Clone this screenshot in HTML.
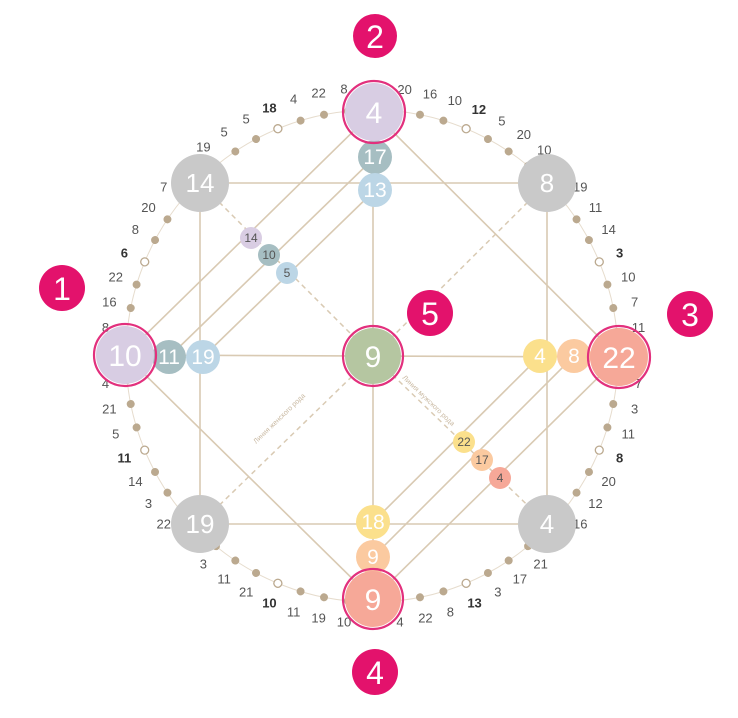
<!DOCTYPE html>
<html><head><meta charset="utf-8"><style>
html,body{margin:0;padding:0;background:#fff;}
svg{display:block;font-family:"Liberation Sans",sans-serif;}
.n{font-size:13px;fill:#555;text-anchor:middle;}
.b{font-weight:bold;fill:#333;}
.w{fill:#fff;text-anchor:middle;}
.d{fill:#555;text-anchor:middle;font-size:12px;}
</style></head><body>
<svg width="738" height="718" viewBox="0 0 738 718" xmlns="http://www.w3.org/2000/svg">
<defs>
<g id="dot"><circle cx="372" cy="110" r="4" fill="#bba98f"/></g>
<g id="hol"><circle cx="372" cy="110" r="4" fill="#fff" stroke="#bba98f" stroke-width="1.3"/></g>
</defs>
<circle cx="372" cy="356" r="246" fill="none" stroke="#e6dccd" stroke-width="1"/>
<!-- dots -->
<g>
<use href="#dot" transform="rotate(5.625 372 356)"/><use href="#dot" transform="rotate(11.25 372 356)"/><use href="#dot" transform="rotate(16.875 372 356)"/><use href="#hol" transform="rotate(22.5 372 356)"/><use href="#dot" transform="rotate(28.125 372 356)"/><use href="#dot" transform="rotate(33.75 372 356)"/><use href="#dot" transform="rotate(39.375 372 356)"/>
<use href="#dot" transform="rotate(50.625 372 356)"/><use href="#dot" transform="rotate(56.25 372 356)"/><use href="#dot" transform="rotate(61.875 372 356)"/><use href="#hol" transform="rotate(67.5 372 356)"/><use href="#dot" transform="rotate(73.125 372 356)"/><use href="#dot" transform="rotate(78.75 372 356)"/><use href="#dot" transform="rotate(84.375 372 356)"/>
<use href="#dot" transform="rotate(95.625 372 356)"/><use href="#dot" transform="rotate(101.25 372 356)"/><use href="#dot" transform="rotate(106.875 372 356)"/><use href="#hol" transform="rotate(112.5 372 356)"/><use href="#dot" transform="rotate(118.125 372 356)"/><use href="#dot" transform="rotate(123.75 372 356)"/><use href="#dot" transform="rotate(129.375 372 356)"/>
<use href="#dot" transform="rotate(140.625 372 356)"/><use href="#dot" transform="rotate(146.25 372 356)"/><use href="#dot" transform="rotate(151.875 372 356)"/><use href="#hol" transform="rotate(157.5 372 356)"/><use href="#dot" transform="rotate(163.125 372 356)"/><use href="#dot" transform="rotate(168.75 372 356)"/><use href="#dot" transform="rotate(174.375 372 356)"/>
<use href="#dot" transform="rotate(185.625 372 356)"/><use href="#dot" transform="rotate(191.25 372 356)"/><use href="#dot" transform="rotate(196.875 372 356)"/><use href="#hol" transform="rotate(202.5 372 356)"/><use href="#dot" transform="rotate(208.125 372 356)"/><use href="#dot" transform="rotate(213.75 372 356)"/><use href="#dot" transform="rotate(219.375 372 356)"/>
<use href="#dot" transform="rotate(230.625 372 356)"/><use href="#dot" transform="rotate(236.25 372 356)"/><use href="#dot" transform="rotate(241.875 372 356)"/><use href="#hol" transform="rotate(247.5 372 356)"/><use href="#dot" transform="rotate(253.125 372 356)"/><use href="#dot" transform="rotate(258.75 372 356)"/><use href="#dot" transform="rotate(264.375 372 356)"/>
<use href="#dot" transform="rotate(275.625 372 356)"/><use href="#dot" transform="rotate(281.25 372 356)"/><use href="#dot" transform="rotate(286.875 372 356)"/><use href="#hol" transform="rotate(292.5 372 356)"/><use href="#dot" transform="rotate(298.125 372 356)"/><use href="#dot" transform="rotate(303.75 372 356)"/><use href="#dot" transform="rotate(309.375 372 356)"/>
<use href="#dot" transform="rotate(320.625 372 356)"/><use href="#dot" transform="rotate(326.25 372 356)"/><use href="#dot" transform="rotate(331.875 372 356)"/><use href="#hol" transform="rotate(337.5 372 356)"/><use href="#dot" transform="rotate(343.125 372 356)"/><use href="#dot" transform="rotate(348.75 372 356)"/><use href="#dot" transform="rotate(354.375 372 356)"/>
</g>
<!-- numbers -->
<g class="n">
<g transform="rotate(7 372 356)"><text x="372" y="92" transform="rotate(-7 372 88)">20</text></g>
<g transform="rotate(12.5 372 356)"><text x="372" y="92" transform="rotate(-12.5 372 88)">16</text></g>
<g transform="rotate(18 372 356)"><text x="372" y="92" transform="rotate(-18 372 88)">10</text></g>
<g transform="rotate(23.5 372 356)"><text class="b" x="372" y="92" transform="rotate(-23.5 372 88)">12</text></g>
<g transform="rotate(29 372 356)"><text x="372" y="92" transform="rotate(-29 372 88)">5</text></g>
<g transform="rotate(34.5 372 356)"><text x="372" y="92" transform="rotate(-34.5 372 88)">20</text></g>
<g transform="rotate(40 372 356)"><text x="372" y="92" transform="rotate(-40 372 88)">10</text></g>

<g transform="rotate(51 372 356)"><text x="372" y="92" transform="rotate(-51 372 88)">19</text></g>
<g transform="rotate(56.5 372 356)"><text x="372" y="92" transform="rotate(-56.5 372 88)">11</text></g>
<g transform="rotate(62 372 356)"><text x="372" y="92" transform="rotate(-62 372 88)">14</text></g>
<g transform="rotate(67.5 372 356)"><text class="b" x="372" y="92" transform="rotate(-67.5 372 88)">3</text></g>
<g transform="rotate(73 372 356)"><text x="372" y="92" transform="rotate(-73 372 88)">10</text></g>
<g transform="rotate(78.5 372 356)"><text x="372" y="92" transform="rotate(-78.5 372 88)">7</text></g>
<g transform="rotate(84 372 356)"><text x="372" y="92" transform="rotate(-84 372 88)">11</text></g>

<g transform="rotate(96 372 356)"><text x="372" y="92" transform="rotate(-96 372 88)">7</text></g>
<g transform="rotate(101.5 372 356)"><text x="372" y="92" transform="rotate(-101.5 372 88)">3</text></g>
<g transform="rotate(107 372 356)"><text x="372" y="92" transform="rotate(-107 372 88)">11</text></g>
<g transform="rotate(112.5 372 356)"><text class="b" x="372" y="92" transform="rotate(-112.5 372 88)">8</text></g>
<g transform="rotate(118 372 356)"><text x="372" y="92" transform="rotate(-118 372 88)">20</text></g>
<g transform="rotate(123.5 372 356)"><text x="372" y="92" transform="rotate(-123.5 372 88)">12</text></g>
<g transform="rotate(129 372 356)"><text x="372" y="92" transform="rotate(-129 372 88)">16</text></g>

<g transform="rotate(141 372 356)"><text x="372" y="92" transform="rotate(-141 372 88)">21</text></g>
<g transform="rotate(146.5 372 356)"><text x="372" y="92" transform="rotate(-146.5 372 88)">17</text></g>
<g transform="rotate(152 372 356)"><text x="372" y="92" transform="rotate(-152 372 88)">3</text></g>
<g transform="rotate(157.5 372 356)"><text class="b" x="372" y="92" transform="rotate(-157.5 372 88)">13</text></g>
<g transform="rotate(163 372 356)"><text x="372" y="92" transform="rotate(-163 372 88)">8</text></g>
<g transform="rotate(168.5 372 356)"><text x="372" y="92" transform="rotate(-168.5 372 88)">22</text></g>
<g transform="rotate(174 372 356)"><text x="372" y="92" transform="rotate(-174 372 88)">4</text></g>

<g transform="rotate(186 372 356)"><text x="372" y="92" transform="rotate(-186 372 88)">10</text></g>
<g transform="rotate(191.5 372 356)"><text x="372" y="92" transform="rotate(-191.5 372 88)">19</text></g>
<g transform="rotate(197 372 356)"><text x="372" y="92" transform="rotate(-197 372 88)">11</text></g>
<g transform="rotate(202.5 372 356)"><text class="b" x="372" y="92" transform="rotate(-202.5 372 88)">10</text></g>
<g transform="rotate(208 372 356)"><text x="372" y="92" transform="rotate(-208 372 88)">21</text></g>
<g transform="rotate(213.5 372 356)"><text x="372" y="92" transform="rotate(-213.5 372 88)">11</text></g>
<g transform="rotate(219 372 356)"><text x="372" y="92" transform="rotate(-219 372 88)">3</text></g>

<g transform="rotate(231 372 356)"><text x="372" y="92" transform="rotate(-231 372 88)">22</text></g>
<g transform="rotate(236.5 372 356)"><text x="372" y="92" transform="rotate(-236.5 372 88)">3</text></g>
<g transform="rotate(242 372 356)"><text x="372" y="92" transform="rotate(-242 372 88)">14</text></g>
<g transform="rotate(247.5 372 356)"><text class="b" x="372" y="92" transform="rotate(-247.5 372 88)">11</text></g>
<g transform="rotate(253 372 356)"><text x="372" y="92" transform="rotate(-253 372 88)">5</text></g>
<g transform="rotate(258.5 372 356)"><text x="372" y="92" transform="rotate(-258.5 372 88)">21</text></g>
<g transform="rotate(264 372 356)"><text x="372" y="92" transform="rotate(-264 372 88)">4</text></g>

<g transform="rotate(276 372 356)"><text x="372" y="92" transform="rotate(-276 372 88)">8</text></g>
<g transform="rotate(281.5 372 356)"><text x="372" y="92" transform="rotate(-281.5 372 88)">16</text></g>
<g transform="rotate(287 372 356)"><text x="372" y="92" transform="rotate(-287 372 88)">22</text></g>
<g transform="rotate(292.5 372 356)"><text class="b" x="372" y="92" transform="rotate(-292.5 372 88)">6</text></g>
<g transform="rotate(298 372 356)"><text x="372" y="92" transform="rotate(-298 372 88)">8</text></g>
<g transform="rotate(303.5 372 356)"><text x="372" y="92" transform="rotate(-303.5 372 88)">20</text></g>
<g transform="rotate(309 372 356)"><text x="372" y="92" transform="rotate(-309 372 88)">7</text></g>

<g transform="rotate(321 372 356)"><text x="372" y="92" transform="rotate(-321 372 88)">19</text></g>
<g transform="rotate(326.5 372 356)"><text x="372" y="92" transform="rotate(-326.5 372 88)">5</text></g>
<g transform="rotate(332 372 356)"><text x="372" y="92" transform="rotate(-332 372 88)">5</text></g>
<g transform="rotate(337.5 372 356)"><text class="b" x="372" y="92" transform="rotate(-337.5 372 88)">18</text></g>
<g transform="rotate(343 372 356)"><text x="372" y="92" transform="rotate(-343 372 88)">4</text></g>
<g transform="rotate(348.5 372 356)"><text x="372" y="92" transform="rotate(-348.5 372 88)">22</text></g>
<g transform="rotate(354 372 356)"><text x="372" y="92" transform="rotate(-354 372 88)">8</text></g>
</g>

<!-- lines -->
<g stroke="#d9cab3" stroke-width="1.6" fill="none">
<polygon points="125,355 373,112 619,357 373,599"/>
<polygon points="200,183 547,183 547,524 200,524"/>
<line x1="373" y1="112" x2="373" y2="599"/>
<line x1="125" y1="355" x2="619" y2="357"/>
<line x1="169" y1="357" x2="375" y2="157"/>
<line x1="203" y1="357" x2="375" y2="190"/>
<line x1="540" y1="356" x2="373" y2="522"/>
<line x1="574" y1="356" x2="373" y2="557"/>
</g>
<g stroke="#d9cab3" stroke-width="1.5" stroke-dasharray="5,4" fill="none">
<line x1="200" y1="183" x2="373" y2="356"/>
<line x1="373" y1="356" x2="547" y2="524"/>
<line x1="200" y1="524" x2="373" y2="356"/>
<line x1="547" y1="183" x2="373" y2="356"/>
</g>
<text x="0" y="0" font-size="7" fill="#c9b9a2" transform="translate(256,444) rotate(-44)">Линия женского рода</text>
<text x="0" y="0" font-size="7" fill="#c9b9a2" transform="translate(402,378) rotate(44)">Линия мужского рода</text>

<!-- corners -->
<g font-size="26">
<circle cx="200" cy="183" r="29" fill="#c9c9c9"/><text class="w" x="200" y="192">14</text>
<circle cx="547" cy="183" r="29" fill="#c9c9c9"/><text class="w" x="547" y="192">8</text>
<circle cx="200" cy="524" r="29" fill="#c9c9c9"/><text class="w" x="200" y="533">19</text>
<circle cx="547" cy="524" r="29" fill="#c9c9c9"/><text class="w" x="547" y="533">4</text>
</g>

<!-- medium circles -->
<g font-size="21">
<circle cx="375" cy="157" r="17" fill="#a6bec2"/><text class="w" x="375" y="164">17</text>
<circle cx="375" cy="190" r="17" fill="#bcd6e6"/><text class="w" x="375" y="197">13</text>
<circle cx="169" cy="357" r="17" fill="#a6bec2"/><text class="w" x="169" y="364">11</text>
<circle cx="203" cy="357" r="17" fill="#bcd6e6"/><text class="w" x="203" y="364">19</text>
<circle cx="540" cy="356" r="17" fill="#fbe08c"/><text class="w" x="540" y="363">4</text>
<circle cx="574" cy="356" r="17" fill="#fbcaa0"/><text class="w" x="574" y="363">8</text>
<circle cx="373" cy="522" r="17" fill="#fbe08c"/><text class="w" x="373" y="529">18</text>
<circle cx="373" cy="557" r="17" fill="#fbcaa0"/><text class="w" x="373" y="564">9</text>
</g>

<!-- small circles -->
<g font-size="12">
<circle cx="251" cy="238" r="11" fill="#d9cde3"/><text class="d" x="251" y="242">14</text>
<circle cx="269" cy="255" r="11" fill="#a6bec2"/><text class="d" x="269" y="259">10</text>
<circle cx="287" cy="273" r="11" fill="#bcd6e6"/><text class="d" x="287" y="277">5</text>
<circle cx="464" cy="442" r="11" fill="#fbe08c"/><text class="d" x="464" y="446">22</text>
<circle cx="482" cy="460" r="11" fill="#fbcaa0"/><text class="d" x="482" y="464">17</text>
<circle cx="500" cy="478" r="11" fill="#f6a898"/><text class="d" x="500" y="482">4</text>
</g>

<!-- main nodes -->
<g font-size="30">
<circle cx="374" cy="112" r="29" fill="#d8cde3"/><circle cx="374" cy="112" r="31" fill="none" stroke="#e2307d" stroke-width="2.2"/><text class="w" x="374" y="123">4</text>
<circle cx="125" cy="355" r="29" fill="#d8cde3"/><circle cx="125" cy="355" r="31" fill="none" stroke="#e2307d" stroke-width="2.2"/><text class="w" x="125" y="366">10</text>
<circle cx="619" cy="357" r="29" fill="#f6a898"/><circle cx="619" cy="357" r="31" fill="none" stroke="#e2307d" stroke-width="2.2"/><text class="w" x="619" y="368">22</text>
<circle cx="373" cy="599" r="28" fill="#f6a898"/><circle cx="373" cy="599" r="30" fill="none" stroke="#e2307d" stroke-width="2.2"/><text class="w" x="373" y="610">9</text>
<circle cx="373" cy="356" r="28" fill="#b5c6a1"/><circle cx="373" cy="356" r="30" fill="none" stroke="#e2307d" stroke-width="2.2"/><text class="w" x="373" y="367">9</text>
</g>

<!-- pink labels -->
<g font-size="32">
<circle cx="375" cy="36" r="22" fill="#e3126c"/><text class="w" x="375" y="48">2</text>
<circle cx="62" cy="288" r="23" fill="#e3126c"/><text class="w" x="62" y="300">1</text>
<circle cx="690" cy="314" r="23" fill="#e3126c"/><text class="w" x="690" y="326">3</text>
<circle cx="430" cy="313" r="23" fill="#e3126c"/><text class="w" x="430" y="325">5</text>
<circle cx="375" cy="672" r="23" fill="#e3126c"/><text class="w" x="375" y="684">4</text>
</g>
</svg>
</body></html>
